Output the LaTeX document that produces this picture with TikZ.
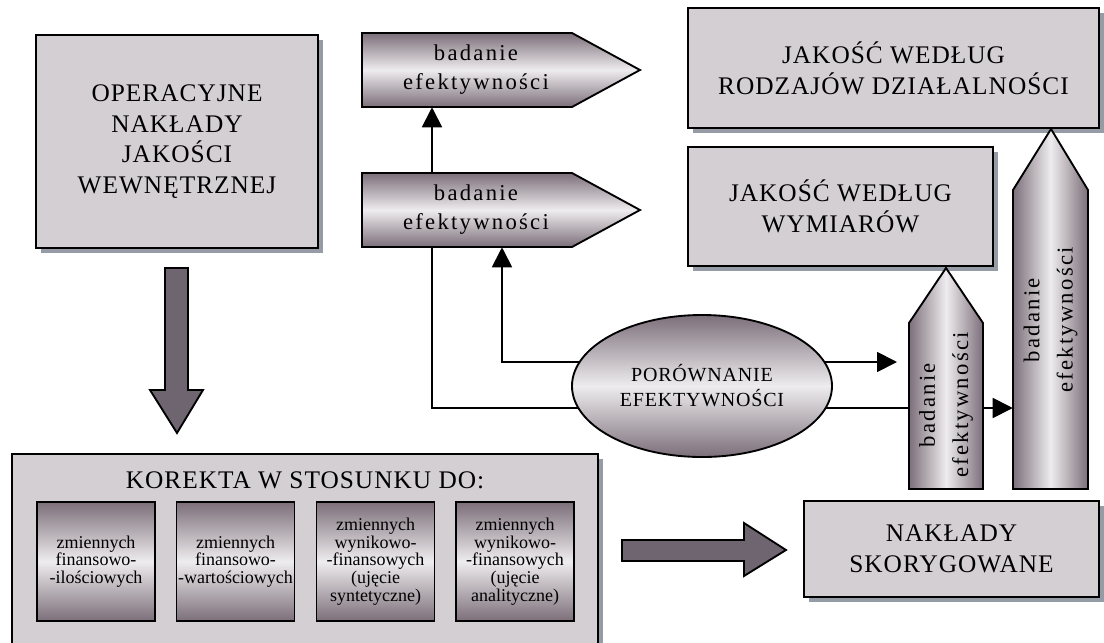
\documentclass[tikz,border=0pt]{standalone}
\usepackage{fontspec}
\setmainfont{Liberation Serif}
\newfontfamily\capsfont[LetterSpace=4]{Liberation Serif}
\newfontfamily\badfont[LetterSpace=10]{Liberation Serif}
\usepackage{tikz}
\usetikzlibrary{shapes.geometric}
\usetikzlibrary{shadows}
\usetikzlibrary{arrows.meta}
\definecolor{boxgrey}{RGB}{212,207,210}
\definecolor{shadowgrey}{RGB}{150,156,166}
\definecolor{mauvedark}{RGB}{124,111,122}
\definecolor{mauvelight}{RGB}{238,236,238}
\definecolor{arrowfill}{RGB}{111,101,113}
\pgfdeclarelayer{background}
\pgfsetlayers{background,main}

\begin{document}
\begin{tikzpicture}[x=0.75pt,y=0.75pt,yscale=-1,xscale=1,
greybox/.style={draw,line width=1.6pt,fill=boxgrey,align=center,inner sep=0pt,drop shadow={shadow xshift=4pt,shadow yshift=-4pt,fill=shadowgrey,opacity=1},font=\capsfont\fontsize{19}{23}\selectfont},
vshade/.style={top color=mauvedark,bottom color=mauvedark,middle color=mauvelight},
hshade/.style={left color=mauvedark,right color=mauvedark,middle color=mauvelight},
pent/.style={draw,line width=1.4pt,line join=miter},
pentxt/.style={inner sep=0pt,minimum height=55.5pt,align=center,font=\badfont\fontsize{17}{21.75}\selectfont},
subbox/.style={draw,line width=1.4pt,vshade,minimum width=88.5pt,minimum height=89.25pt,inner sep=0pt,align=center,font=\fontsize{13.5}{13.2}\selectfont},
conn/.style={line width=1.4pt},
headtip/.style={-{Triangle[length=15pt,width=15pt]}},
blockarrow/.style={draw,line width=1.4pt,fill=arrowfill,line join=miter}
]
\useasboundingbox (0,0) rectangle (1104,643);
\clip (0,0) rectangle (1104,643);
\node[greybox,minimum width=211.5pt,minimum height=159.75pt] (opj) at (177,141.5) {OPERACYJNE\\NAKŁADY\\JAKOŚCI\\WEWNĘTRZNEJ};
\node[greybox,minimum width=308.25pt,minimum height=90pt] (jrodz) at (893.5,68) {JAKOŚĆ WEDŁUG\\RODZAJÓW DZIAŁALNOŚCI};
\node[greybox,minimum width=228.75pt,minimum height=89.25pt] (jwym) at (840.5,206.5) {JAKOŚĆ WEDŁUG\\WYMIARÓW};
\node[greybox,minimum width=221.25pt,minimum height=72pt] (nakl) at (951.5,549) {NAKŁADY\\SKORYGOWANE};
\node[greybox,minimum width=439.5pt,minimum height=163.5pt] (kor) at (305,563) {};
\node[inner sep=0pt,font=\capsfont\fontsize{19}{23}\selectfont] (kortitle) at (305,480) {KOREKTA W STOSUNKU DO:};
\node[subbox] (k1) at (96,561.5) {zmiennych\\finansowo-\\-ilościowych};
\node[subbox] (k2) at (235.5,561.5) {zmiennych\\finansowo-\\-wartościowych};
\node[subbox] (k3) at (375.5,561.5) {zmiennych\\wynikowo-\\-finansowych\\(ujęcie\\syntetyczne)};
\node[subbox] (k4) at (515,561.5) {zmiennych\\wynikowo-\\-finansowych\\(ujęcie\\analityczne)};
\draw[blockarrow] (165,268) -- (188,268) -- (188,390) -- (203,390) -- (177,433) -- (150,390) -- (165,390) -- cycle;
\draw[blockarrow] (622,540) -- (744,540) -- (744,523) -- (786,550) -- (744,576) -- (744,561) -- (622,561) -- cycle;
\draw[pent,vshade] (362,33) -- (572,33) -- (640,70) -- (572,107) -- (362,107) -- cycle;
\draw[pent,vshade] (362,173) -- (572,173) -- (640,210) -- (572,247) -- (362,247) -- cycle;
\draw[pent,hshade] (909,489) -- (909,323) -- (946,268) -- (983,323) -- (983,489) -- cycle;
\draw[pent,hshade] (1013,489) -- (1013,190) -- (1051,129) -- (1088,190) -- (1088,489) -- cycle;
\node[pentxt] (bad1) at (476,70) {badanie\\efektywności};
\node[pentxt] (bad2) at (476,210) {badanie\\efektywności};
\node[pentxt,rotate=90,font=\badfont\fontsize{17}{25}\selectfont] (bv1) at (946,405) {badanie\\efektywności};
\node[pentxt,rotate=90,minimum height=56.25pt,font=\badfont\fontsize{17}{25}\selectfont] (bv2) at (1050.5,320) {badanie\\efektywności};
\node[ellipse,draw,line width=1.4pt,vshade,minimum width=195pt,minimum height=106.5pt,inner sep=0pt,align=center,font=\capsfont\fontsize{15}{18.75}\selectfont] (por) at (702,386) {PORÓWNANIE\\EFEKTYWNOŚCI};
\coordinate (cL) at (432,408);
\coordinate (cU) at (502,362);
\coordinate (cE) at (897,362);
\begin{pgfonlayer}{background}
\draw[conn] (cL -| por) -- (cL) -- (cL |- bad2.south);
\draw[conn,headtip] (cL |- bad2.north) -- (cL |- bad1.south);
\draw[conn,headtip] (cU -| por) -- (cU) -- (cU |- bad2.south);
\draw[conn,headtip] (cU -| por) -- (cE);
\draw[conn] (cL -| por) -- (cL -| bv1.north);
\draw[conn,headtip] (cL -| bv1.south) -- (cL -| bv2.north);
\end{pgfonlayer}
\end{tikzpicture}
\end{document}
